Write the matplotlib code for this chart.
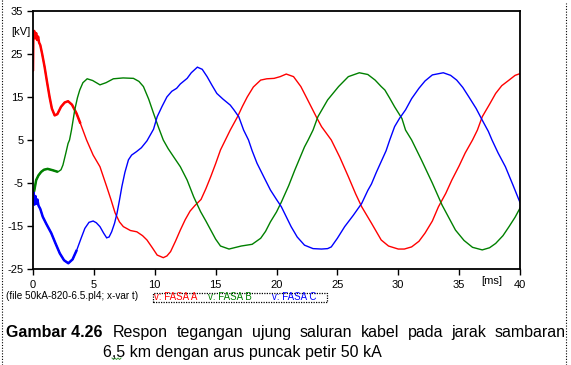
import matplotlib
matplotlib.use('Agg')
import matplotlib.pyplot as plt
from matplotlib.lines import Line2D
from matplotlib.patches import Rectangle

plt.rcParams['font.family'] = ['Liberation Sans', 'DejaVu Sans']

W, H = 571, 365

# ---------------- data ----------------
x_ticks = [0, 5, 10, 15, 20, 25, 30, 35, 40]
y_ticks = [-25, -15, -5, 5, 15, 25, 35]

t_a = [0, 0.03, 0.1, 0.18, 0.26, 0.34, 0.42, 0.5, 0.6, 0.75, 0.95, 1.15, 1.36, 1.55,
       1.78, 2.0, 2.3, 2.6, 2.88, 3.2, 3.57, 3.9, 4.4, 4.94, 5.5, 6.05, 6.4, 6.74,
       7.1, 7.42, 8.0, 8.53, 9.0, 9.36, 9.8, 10.2, 10.7, 11.0, 11.3, 11.7, 12.1,
       12.5, 12.9, 13.3, 13.8, 14.2, 14.6, 15.0, 15.4, 15.8, 16.2, 16.8, 17.2, 17.6,
       18.1, 18.7, 19.2, 19.8, 20.3, 20.8, 21.4, 22.0, 22.4, 22.85, 23.3, 23.7, 24.5,
       25.2, 25.9, 26.5, 27.0, 27.8, 28.6, 29.2, 30.0, 30.5, 31.1, 31.7, 32.2, 32.8,
       33.3, 33.9, 34.4, 35.0, 35.5, 36.1, 36.5, 36.9, 37.5, 38.0, 38.5, 39.1, 39.6, 40.0]
v_a = [21, 29.5, 30.3, 28.6, 29.8, 28.2, 29.0, 27.6, 27.0, 25.0, 22.0, 18.5, 15.0, 12.3,
       10.7, 11.0, 12.7, 13.7, 14.0, 13.2, 11.2, 8.8, 5.0, 1.5, -1.2, -5.8, -8.8, -11.9,
       -14.0, -15.1, -16.0, -16.3, -17.2, -18.2, -20.0, -21.7, -22.3, -21.9, -20.9, -18.5, -15.9,
       -13.5, -11.5, -10.2, -8.8, -6.3, -3.5, -0.5, 2.7, 5.0, 7.3, 10.4, 12.8, 15.0,
       17.3, 18.9, 19.2, 19.3, 19.7, 20.3, 19.7, 17.4, 15.2, 12.7, 10.2, 8.1, 5.0,
       1.0, -3.5, -7.5, -10.5, -14.3, -18.2, -19.6, -20.3, -20.3, -19.8, -18.5, -16.6, -13.8,
       -10.5, -7.4, -4.3, -1.0, 2.0, 5.0, 7.3, 10.4, 13.3, 15.8, 17.6, 18.9, 20.0, 20.4]

t_b = [0, 0.1, 0.26, 0.45, 0.67, 0.9, 1.2, 1.6, 2.05, 2.3, 2.46, 2.7, 2.88, 3.0, 3.16,
       3.43, 3.65, 3.84, 4.1, 4.45, 4.9, 5.5, 6.0, 6.6, 7.4, 8.25, 8.7, 9.07, 9.5, 9.9,
       10.3, 10.7, 11.1, 11.55, 12.1, 12.66, 13.2, 13.76, 14.2, 14.6, 15.0, 15.4, 16.1,
       17.1, 18.0, 18.7, 19.1, 19.5, 20.0, 20.4, 21.0, 21.5, 22.3, 22.6, 23.0, 23.4,
       24.2, 25.1, 25.9, 26.8, 27.5, 28.1, 28.6, 28.9, 29.3, 29.7, 30.3, 30.6, 31.1,
       31.9, 32.8, 33.6, 34.7, 35.4, 36.1, 36.9, 37.5, 38.0, 38.6, 39.1, 39.6, 40.0]
v_b = [-7.6, -6.8, -4.3, -3.2, -2.4, -1.9, -1.7, -2.0, -2.4, -1.9, -0.8, 2.0, 4.2, 5.0, 7.3,
       12.0, 14.8, 16.6, 18.3, 19.2, 18.8, 17.8, 18.3, 19.2, 19.4, 19.3, 18.6, 17.4, 14.5, 11.2,
       8.0, 5.0, 3.0, 1.1, -1.2, -4.3, -8.2, -11.6, -13.8, -15.9, -18.0, -19.6, -20.3,
       -19.6, -19.2, -17.8, -16.2, -14.0, -11.7, -9.4, -5.6, -2.0, 3.4, 5.0, 7.3, 10.4,
       14.3, 17.4, 19.7, 20.6, 20.2, 18.9, 17.4, 16.6, 14.7, 12.7, 10.0, 7.3, 5.0,
       0.4, -5.0, -10.1, -15.9, -18.3, -19.9, -20.5, -20.0, -19.0, -17.2, -15.1, -12.9, -10.8]

t_c = [0, 0.05, 0.12, 0.2, 0.28, 0.36, 0.45, 0.6, 0.8, 1.1, 1.5, 1.85, 2.2, 2.55, 2.9,
       3.25, 3.6, 3.95, 4.26, 4.6, 4.94, 5.2, 5.5, 5.8, 6.05, 6.25, 6.46, 6.7, 6.9, 7.1,
       7.3, 7.55, 7.84, 8.1, 8.5, 8.9, 9.36, 9.9, 10.2, 10.6, 11.0, 11.4, 11.8, 12.1,
       12.66, 13.0, 13.5, 13.9, 14.3, 14.7, 15.1, 15.6, 16.2, 16.5, 16.9, 17.3, 17.7,
       18.0, 18.4, 19.0, 19.5, 20.0, 20.4, 20.8, 21.2, 21.7, 22.3, 23.0, 23.7, 24.2,
       24.5, 25.0, 25.6, 26.3, 27.0, 27.5, 27.8, 28.2, 28.6, 29.0, 29.3, 29.7, 30.1,
       30.6, 31.1, 31.7, 32.2, 32.8, 33.7, 34.3, 34.8, 35.3, 35.8, 36.4, 36.9, 37.4,
       37.7, 38.2, 38.8, 39.4, 40.0]
v_c = [-8.5, -7.2, -10.0, -8.0, -9.8, -8.8, -10.2, -11.0, -12.8, -14.5, -16.6, -19.0, -21.3, -22.9, -23.6,
       -22.7, -20.5, -17.8, -15.5, -14.1, -13.8, -14.2, -15.1, -16.6, -17.7, -17.5, -16.3, -14.3, -12.0, -9.0,
       -5.8, -2.5, 0.4, 1.5, 2.3, 3.2, 4.8, 7.5, 10.4, 12.8, 15.0, 16.3, 17.0, 18.0,
       19.3, 20.6, 21.9, 21.4, 19.7, 17.7, 15.8, 14.5, 13.1, 12.0, 10.4, 7.3, 5.0,
       2.5, -0.4, -3.8, -6.6, -8.8, -10.5, -12.8, -15.1, -17.5, -19.4, -20.2, -20.3, -20.2,
       -19.8, -17.8, -15.1, -12.5, -9.7, -6.7, -5.2, -2.5, 0.0, 2.5, 5.0, 8.1, 10.0,
       12.0, 14.6, 17.0, 18.7, 20.1, 20.6, 20.0, 18.9, 17.2, 15.0, 12.3, 9.6, 7.0,
       5.0, 2.0, -1.2, -5.3, -9.5]

series_names = ['v: FASA A', 'v: FASA B', 'v: FASA C']
series_colors = ['#ff0000', '#008000', '#0000ff']
thick_until = [4.2, 2.2, 3.8]

caption_bold = 'Gambar 4.26'
caption_line1 = 'Respon tegangan ujung saluran kabel pada jarak sambaran'
caption_line2 = '6,5 km dengan arus puncak petir 50 kA'
file_note = '(file 50kA-820-6.5.pl4; x-var t)'

# ---------------- figure ----------------
fig = plt.figure(figsize=(W / 100, H / 100), dpi=100)
fig.patch.set_facecolor('white')


def fx(px):
    return px / W


def fy(py):
    return 1 - py / H


ax = fig.add_axes([fx(33), fy(269.3), (520 - 33) / W, (269.3 - 10.7) / H])
ax.set_xlim(0, 40)
ax.set_ylim(-25, 35)
ax.set_xticks(x_ticks)
ax.set_yticks(y_ticks)
ax.set_xticklabels([str(v) for v in x_ticks])
ax.set_yticklabels([str(v) for v in y_ticks])
for s in ax.spines.values():
    s.set_linewidth(1.3)
    s.set_color('black')
ax.tick_params(direction='out', length=4, width=1.0, labelsize=8, colors='black')
ax.tick_params(axis='x', pad=4)
ax.tick_params(axis='y', pad=3)

data = [(t_a, v_a), (t_b, v_b), (t_c, v_c)]
for (t, v), col, tu in zip(data, series_colors, thick_until):
    ax.plot(t, v, color=col, lw=1.0, solid_joinstyle='miter')
    idx = [i for i, tt in enumerate(t) if tt <= tu]
    ax.plot([t[i] for i in idx], [v[i] for i in idx], color=col, lw=1.8,
            solid_capstyle='butt')

# axis unit labels
fig.text(fx(11.5), fy(32), '[kV]', fontsize=8, va='center', ha='left')
fig.text(fx(481), fy(280.5), '[ms]', fontsize=8, va='center', ha='left')

# file note and legend box
fig.text(fx(6), fy(296.2), file_note, fontsize=7.2, va='center', ha='left')
fig.patches.append(Rectangle((fx(152.7), fy(302.3)), (326.7 - 152.7) / W, (302.3 - 292.7) / H,
                             transform=fig.transFigure, fill=False, ls=(0, (1, 1)),
                             lw=0.9, edgecolor='black'))
leg_x = [153.5, 208.5, 272]
for name, col, lx in zip(series_names, series_colors, leg_x):
    fig.text(fx(lx), fy(297.5), name, fontsize=7, color=col, va='center', ha='left')

# frame borders of the document (dotted)
fig.add_artist(Line2D([fx(2), fx(2)], [0, 1], transform=fig.transFigure,
                      color='black', lw=0.8, ls=(0, (1, 1.5))))
fig.add_artist(Line2D([fx(566), fx(566)], [0, fy(3)], transform=fig.transFigure,
                      color='black', lw=0.8, ls=(0, (1, 1.5))))

# caption
cap_fs = 11.5
fig.text(fx(6), fy(336.7), caption_bold, fontsize=cap_fs, fontweight='bold',
         va='baseline', ha='left')
words = caption_line1.split()
word_texts = [fig.text(0, fy(336.7), w, fontsize=cap_fs, va='baseline', ha='left') for w in words]
fig.canvas.draw()
r = fig.canvas.get_renderer()
widths = [wt.get_window_extent(r).width for wt in word_texts]
x0, x1 = 113.0, 566.0
gap = (x1 - x0 - sum(widths)) / (len(words) - 1)
x = x0
for wt, wd in zip(word_texts, widths):
    wt.set_x(fx(x))
    x += wd + gap
fig.text(fx(103), fy(356.7), caption_line2, fontsize=cap_fs, va='baseline', ha='left')
# spell-check squiggle under "5"
sq_x = [112, 113.5, 115, 116.5, 118, 119.5, 121]
sq_y = [358, 359.5, 358, 359.5, 358, 359.5, 358]
fig.add_artist(Line2D([fx(v) for v in sq_x], [fy(v) for v in sq_y],
                      transform=fig.transFigure, color='#3c9a3c', lw=0.7))

fig.savefig('out.png', dpi=100, facecolor='white')
